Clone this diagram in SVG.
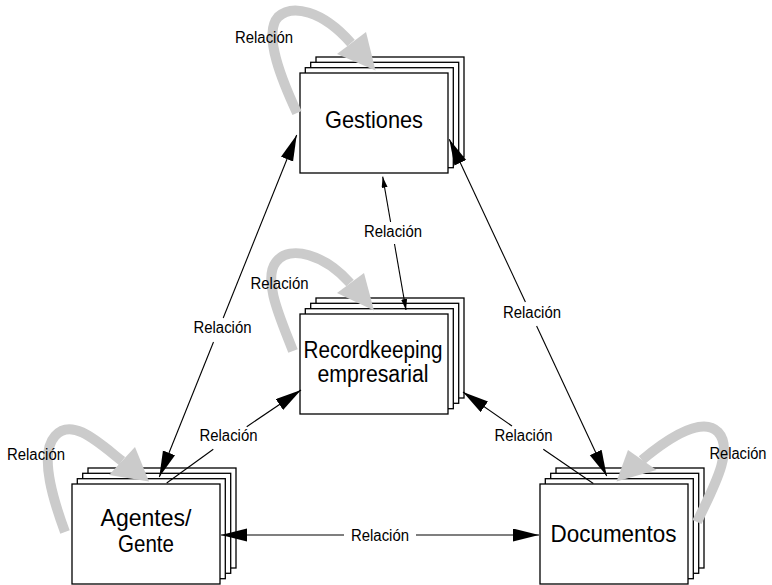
<svg xmlns="http://www.w3.org/2000/svg" width="772" height="585" viewBox="0 0 772 585">
<defs>
<marker id="big" markerUnits="userSpaceOnUse" markerWidth="27" markerHeight="14" refX="26" refY="6.5" orient="auto" viewBox="0 0 27 14">
<path d="M0,0 L26,6.5 L0,13 z" fill="#000"/>
</marker>
<marker id="small" markerUnits="userSpaceOnUse" markerWidth="12" markerHeight="7" refX="11" refY="3" orient="auto" viewBox="0 0 12 7">
<path d="M0,0 L11,3 L0,6 z" fill="#000"/>
</marker>
<g id="stack">
<rect x="16" y="-16" width="148" height="100"/>
<rect x="10.7" y="-10.7" width="148" height="100"/>
<rect x="5.3" y="-5.3" width="148" height="100"/>
<rect x="0" y="0" width="148" height="100"/>
</g>
</defs>
<style>
#stack rect { fill: #fff; stroke: #000; stroke-width: 1.3; }
.node text { font-family: "Liberation Sans", Arial, sans-serif; fill: #000; text-anchor: middle; }
.lbl { font-family: "Liberation Sans", Arial, sans-serif; font-size: 16px; fill: #000; text-anchor: middle; }
.loop { fill: none; stroke: #cbcbcb; stroke-width: 10; }
.head { fill: #cbcbcb; }
.conn { fill: none; stroke: #000; stroke-width: 1.1; }
</style>
<rect width="772" height="585" fill="#fff"/>

<g id="gestiones" class="node">
<use href="#stack" x="300" y="73"/>
<text x="374" y="128" font-size="24.5" textLength="98" lengthAdjust="spacingAndGlyphs">Gestiones</text>
</g>
<g id="recordkeeping" class="node">
<use href="#stack" x="300" y="314"/>
<text x="373" y="358" font-size="23.5" textLength="139" lengthAdjust="spacingAndGlyphs">Recordkeeping</text>
<text x="373" y="381.5" font-size="23.5" textLength="111" lengthAdjust="spacingAndGlyphs">empresarial</text>
</g>
<g id="agentes" class="node">
<use href="#stack" x="72" y="484"/>
<text x="146" y="526" font-size="24.5" textLength="91" lengthAdjust="spacingAndGlyphs">Agentes/</text>
<text x="146" y="551.5" font-size="24.5" textLength="56" lengthAdjust="spacingAndGlyphs">Gente</text>
</g>
<g id="documentos" class="node">
<use href="#stack" x="540" y="484"/>
<text x="613.5" y="541.5" font-size="24" textLength="126" lengthAdjust="spacingAndGlyphs">Documentos</text>
</g>

<g id="self-loops">
<path class="loop" d="M297,113 C284,85 262,35 278,17 C292,4 322,10 351,43"/>
<polygon class="head" points="337,54 366,32 375.5,70.5"/>
<path class="loop" d="M293,351 C282,322 262,280 276,262 C290,244 325,255 350,283"/>
<polygon class="head" points="337,293 364,273 374,310.5"/>
<path class="loop" d="M65,532 C55,505 38,455 55,436 C72,417 98,442 122,461"/>
<polygon class="head" points="109,475 135,447 149,481.5"/>
<path class="loop" d="M697,522 C712,490 735,450 718,432 C703,417 672,435 642,460"/>
<polygon class="head" points="628,450 656.5,470 616.5,481.5"/>
<text class="lbl" x="264" y="43" textLength="58" lengthAdjust="spacingAndGlyphs">Relación</text>
<text class="lbl" x="279.5" y="289" textLength="58" lengthAdjust="spacingAndGlyphs">Relación</text>
<text class="lbl" x="36" y="459.5" textLength="58" lengthAdjust="spacingAndGlyphs">Relación</text>
<text class="lbl" x="738" y="458.5" textLength="57" lengthAdjust="spacingAndGlyphs">Relación</text>
</g>

<g id="connectors">
<line class="conn" x1="223.2" y1="318" x2="296.7" y2="135" marker-end="url(#big)"/>
<line class="conn" x1="213.5" y1="342" x2="159.3" y2="477" marker-end="url(#big)"/>
<text class="lbl" x="222.5" y="333" textLength="58" lengthAdjust="spacingAndGlyphs">Relación</text>

<line class="conn" x1="525.4" y1="302" x2="449.3" y2="139.3" marker-end="url(#big)"/>
<line class="conn" x1="536.6" y1="326" x2="606.7" y2="476" marker-end="url(#big)"/>
<text class="lbl" x="532" y="318" textLength="58" lengthAdjust="spacingAndGlyphs">Relación</text>

<line class="conn" x1="390.6" y1="222" x2="382.7" y2="176.7" marker-end="url(#small)"/>
<line class="conn" x1="394.5" y1="244" x2="406" y2="310" marker-end="url(#small)"/>
<text class="lbl" x="393" y="237" textLength="58" lengthAdjust="spacingAndGlyphs">Relación</text>

<line class="conn" x1="166.7" y1="483" x2="213.3" y2="449.3"/>
<line class="conn" x1="246.7" y1="426.7" x2="301" y2="390" marker-end="url(#big)"/>
<text class="lbl" x="228.5" y="440.5" textLength="58" lengthAdjust="spacingAndGlyphs">Relación</text>

<line class="conn" x1="593.3" y1="483.5" x2="543.3" y2="449.3"/>
<line class="conn" x1="512" y1="426" x2="463" y2="392" marker-end="url(#big)"/>
<text class="lbl" x="523.5" y="440.5" textLength="58" lengthAdjust="spacingAndGlyphs">Relación</text>

<line class="conn" x1="344" y1="535" x2="221" y2="535" marker-end="url(#big)"/>
<line class="conn" x1="416" y1="535" x2="539" y2="535" marker-end="url(#big)"/>
<text class="lbl" x="380" y="541" textLength="58" lengthAdjust="spacingAndGlyphs">Relación</text>
</g>
</svg>
